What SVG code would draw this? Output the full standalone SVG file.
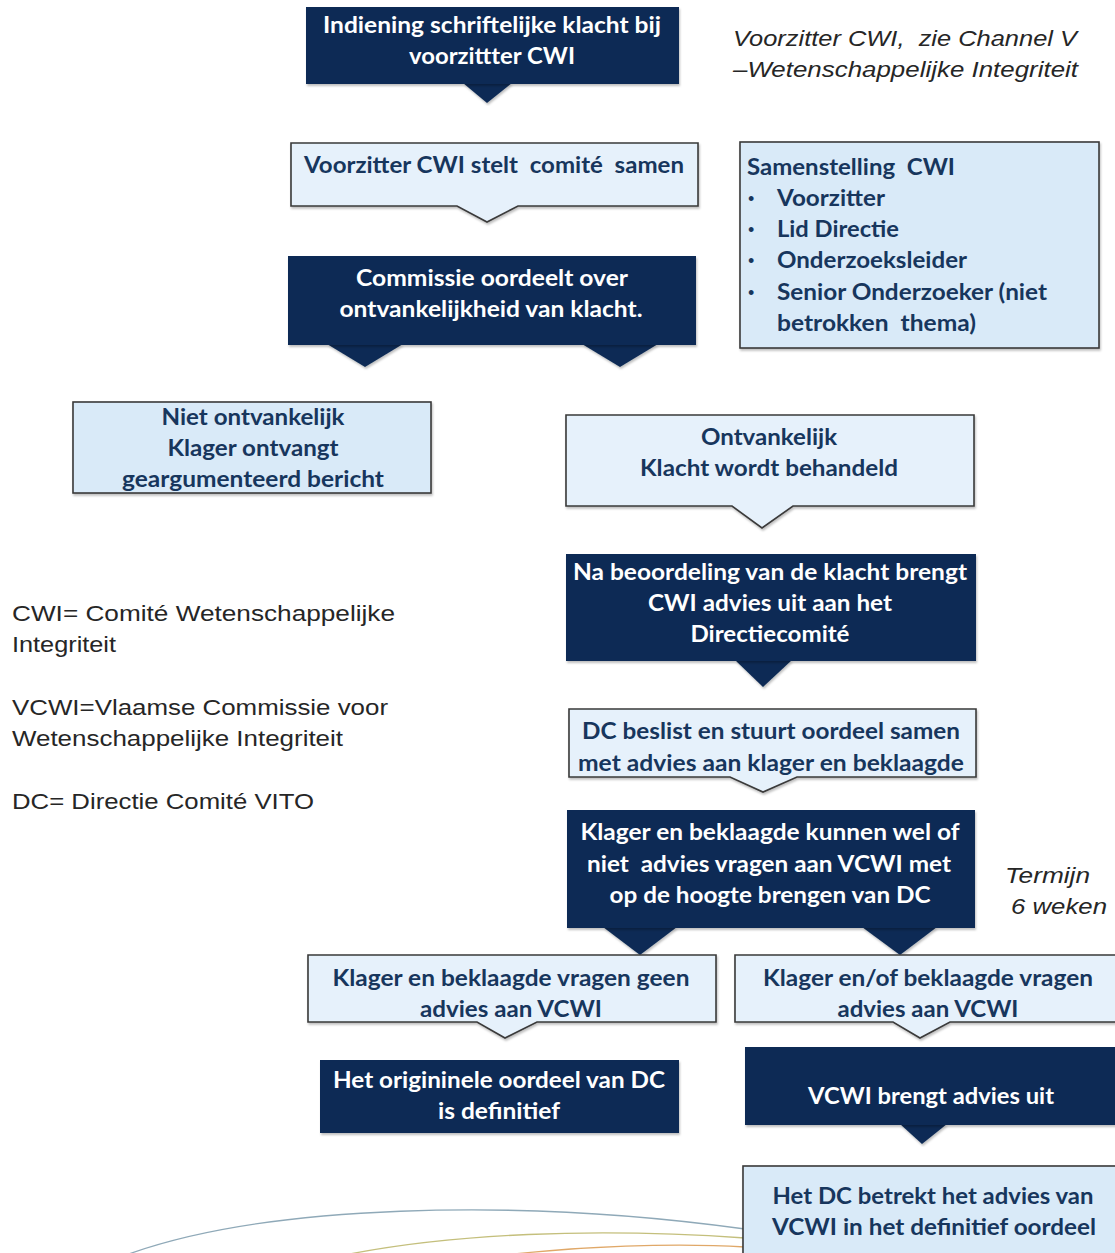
<svg xmlns="http://www.w3.org/2000/svg" width="1115" height="1253" viewBox="0 0 1115 1253">
<defs>
<filter id="sh" x="-5%" y="-5%" width="110%" height="120%">
<feDropShadow dx="1" dy="2" stdDeviation="1.2" flood-color="#000" flood-opacity="0.25"/>
</filter>
<style>
.dark{fill:#0c2b55;filter:url(#sh)}
.light{fill:#d9eaf8;stroke:#3a3a3a;stroke-width:1.6;filter:url(#sh)}
.pale{fill:#e6f1fb;stroke:#3a3a3a;stroke-width:1.6;stroke-linejoin:miter;filter:url(#sh)}
.tw{font-family:Lato,"Open Sans","Liberation Sans",sans-serif;font-weight:bold;font-size:22px;fill:#ffffff;text-anchor:middle}
.tb{font-family:Lato,"Open Sans","Liberation Sans",sans-serif;font-weight:bold;font-size:22px;fill:#17365d;text-anchor:middle}
.tbl{font-family:Lato,"Open Sans","Liberation Sans",sans-serif;font-weight:bold;font-size:22px;fill:#17365d}
.bul{font-family:"Liberation Sans",Arial,sans-serif;font-size:18px;fill:#17365d}
.note{font-family:"Liberation Sans",Arial,sans-serif;font-size:22px;fill:#262626}
.it{font-family:"Liberation Sans",Arial,sans-serif;font-size:22px;font-style:italic;fill:#262626}
.arc{fill:none;stroke-width:1.3}
</style>
</defs>
<rect width="1115" height="1253" fill="#ffffff"/>

<g id="decor">
<path class="arc" d="M118,1258 C260,1203 520,1198 745,1229" stroke="#8fa9b8"/>
<path class="arc" d="M330,1258 C450,1232 600,1228 745,1238" stroke="#c4bf7c"/>
<path class="arc" d="M480,1258 C580,1245 680,1243 745,1247" stroke="#e0a868"/>
</g>

<g id="connectors">
<polygon class="dark" points="463,83 512,83 487,103"/>
<polygon class="dark" points="327,344 403,344 365,367"/>
<polygon class="dark" points="582,344 658,344 620,367"/>
<polygon class="dark" points="735,660 792,660 763,687"/>
<polygon class="dark" points="603,927 677,927 640,955"/>
<polygon class="dark" points="862,927 937,927 900,955"/>
<polygon class="dark" points="900,1124 947,1124 922,1144"/>
</g>

<g id="n1">
<rect class="dark" x="306" y="7" width="373" height="77"/>
<text class="tw" x="492" y="33" textLength="338" lengthAdjust="spacingAndGlyphs">Indiening schriftelijke klacht bij</text>
<text class="tw" x="492" y="64" textLength="166" lengthAdjust="spacingAndGlyphs">voorzittter CWI</text>
</g>

<g id="n-note-top">
<text class="it" x="733" y="46" textLength="344" lengthAdjust="spacingAndGlyphs" xml:space="preserve">Voorzitter CWI,  zie Channel V</text>
<text class="it" x="733" y="77" textLength="345" lengthAdjust="spacingAndGlyphs">–Wetenschappelijke Integriteit</text>
</g>

<g id="n2">
<path class="pale" d="M291,143 H698 V206 H518 L487,222 L457,206 H291 Z"/>
<text class="tb" x="494" y="173" textLength="380" lengthAdjust="spacingAndGlyphs" xml:space="preserve">Voorzitter CWI stelt  comité  samen</text>
</g>

<g id="n-samenstelling">
<rect class="light" x="740" y="142" width="359" height="206"/>
<text class="tbl" x="747" y="175" textLength="208" lengthAdjust="spacingAndGlyphs" xml:space="preserve">Samenstelling  CWI</text>
<text class="bul" x="748" y="205">•</text>
<text class="tbl" x="777" y="206" textLength="108" lengthAdjust="spacingAndGlyphs">Voorzitter</text>
<text class="bul" x="748" y="236">•</text>
<text class="tbl" x="777" y="237" textLength="122" lengthAdjust="spacingAndGlyphs">Lid Directie</text>
<text class="bul" x="748" y="267">•</text>
<text class="tbl" x="777" y="268" textLength="190" lengthAdjust="spacingAndGlyphs">Onderzoeksleider</text>
<text class="bul" x="748" y="299">•</text>
<text class="tbl" x="777" y="300" textLength="270" lengthAdjust="spacingAndGlyphs">Senior Onderzoeker (niet</text>
<text class="tbl" x="777" y="331" textLength="199" lengthAdjust="spacingAndGlyphs" xml:space="preserve">betrokken  thema)</text>
</g>

<g id="n3">
<rect class="dark" x="288" y="256" width="408" height="89"/>
<text class="tw" x="492" y="286" textLength="272" lengthAdjust="spacingAndGlyphs">Commissie oordeelt over</text>
<text class="tw" x="491" y="317" textLength="303" lengthAdjust="spacingAndGlyphs">ontvankelijkheid van klacht.</text>
</g>

<g id="n-niet">
<rect class="light" x="73" y="402" width="358" height="91"/>
<text class="tb" x="253" y="425" textLength="183" lengthAdjust="spacingAndGlyphs">Niet ontvankelijk</text>
<text class="tb" x="253" y="456" textLength="171" lengthAdjust="spacingAndGlyphs">Klager ontvangt</text>
<text class="tb" x="253" y="487" textLength="262" lengthAdjust="spacingAndGlyphs">geargumenteerd bericht</text>
</g>

<g id="n-ontv">
<path class="pale" d="M566,415 H974 V506 H793 L762,528 L732,506 H566 Z"/>
<text class="tb" x="769" y="445" textLength="136" lengthAdjust="spacingAndGlyphs">Ontvankelijk</text>
<text class="tb" x="769" y="476" textLength="258" lengthAdjust="spacingAndGlyphs">Klacht wordt behandeld</text>
</g>

<g id="n-na">
<rect class="dark" x="566" y="554" width="410" height="107"/>
<text class="tw" x="770" y="580" textLength="394" lengthAdjust="spacingAndGlyphs">Na beoordeling van de klacht brengt</text>
<text class="tw" x="770" y="611" textLength="244" lengthAdjust="spacingAndGlyphs">CWI advies uit aan het</text>
<text class="tw" x="770" y="642" textLength="159" lengthAdjust="spacingAndGlyphs">Directiecomité</text>
</g>

<g id="n-dc">
<path class="pale" d="M569,709 H976 V777 H797 L763,792 L730,777 H569 Z"/>
<text class="tb" x="771" y="739" textLength="378" lengthAdjust="spacingAndGlyphs">DC beslist en stuurt oordeel samen</text>
<text class="tb" x="771" y="771" textLength="386" lengthAdjust="spacingAndGlyphs">met advies aan klager en beklaagde</text>
</g>

<g id="n-klager">
<rect class="dark" x="567" y="810" width="408" height="118"/>
<text class="tw" x="770" y="840" textLength="379" lengthAdjust="spacingAndGlyphs">Klager en beklaagde kunnen wel of</text>
<text class="tw" x="769" y="872" textLength="364" lengthAdjust="spacingAndGlyphs" xml:space="preserve">niet  advies vragen aan VCWI met</text>
<text class="tw" x="770" y="903" textLength="321" lengthAdjust="spacingAndGlyphs">op de hoogte brengen van DC</text>
</g>

<g id="n-termijn">
<text class="it" x="1005" y="883" textLength="85" lengthAdjust="spacingAndGlyphs">Termijn</text>
<text class="it" x="1011" y="914" textLength="96" lengthAdjust="spacingAndGlyphs">6 weken</text>
</g>

<g id="n-geen">
<path class="pale" d="M308,955 H716 V1022 H537 L505,1038 L477,1022 H308 Z"/>
<text class="tb" x="511" y="986" textLength="357" lengthAdjust="spacingAndGlyphs">Klager en beklaagde vragen geen</text>
<text class="tb" x="511" y="1017" textLength="182" lengthAdjust="spacingAndGlyphs">advies aan VCWI</text>
</g>

<g id="n-orig">
<rect class="dark" x="320" y="1060" width="359" height="73"/>
<text class="tw" x="499" y="1088" textLength="332" lengthAdjust="spacingAndGlyphs">Het origininele oordeel van DC</text>
<text class="tw" x="499" y="1119" textLength="122" lengthAdjust="spacingAndGlyphs">is definitief</text>
</g>

<g id="n-enof">
<path class="pale" d="M735,955 H1125 V1022 H950 L920,1038 L893,1022 H735 Z"/>
<text class="tb" x="928" y="986" textLength="330" lengthAdjust="spacingAndGlyphs">Klager en/of beklaagde vragen</text>
<text class="tb" x="928" y="1017" textLength="181" lengthAdjust="spacingAndGlyphs">advies aan VCWI</text>
</g>

<g id="n-vcwi">
<rect class="dark" x="745" y="1047" width="380" height="78"/>
<text class="tw" x="931" y="1104" textLength="246" lengthAdjust="spacingAndGlyphs">VCWI brengt advies uit</text>
</g>

<g id="n-final">
<rect class="light" x="743" y="1166" width="385" height="100"/>
<text class="tb" x="933" y="1204" textLength="321" lengthAdjust="spacingAndGlyphs">Het DC betrekt het advies van</text>
<text class="tb" x="934" y="1235" textLength="324" lengthAdjust="spacingAndGlyphs">VCWI in het definitief oordeel</text>
</g>

<g id="n-legend">
<text class="note" x="12" y="621" textLength="383" lengthAdjust="spacingAndGlyphs">CWI= Comité Wetenschappelijke</text>
<text class="note" x="12" y="652" textLength="104" lengthAdjust="spacingAndGlyphs">Integriteit</text>
<text class="note" x="12" y="715" textLength="376" lengthAdjust="spacingAndGlyphs">VCWI=Vlaamse Commissie voor</text>
<text class="note" x="12" y="746" textLength="331" lengthAdjust="spacingAndGlyphs">Wetenschappelijke Integriteit</text>
<text class="note" x="12" y="809" textLength="302" lengthAdjust="spacingAndGlyphs">DC= Directie Comité VITO</text>
</g>
</svg>
